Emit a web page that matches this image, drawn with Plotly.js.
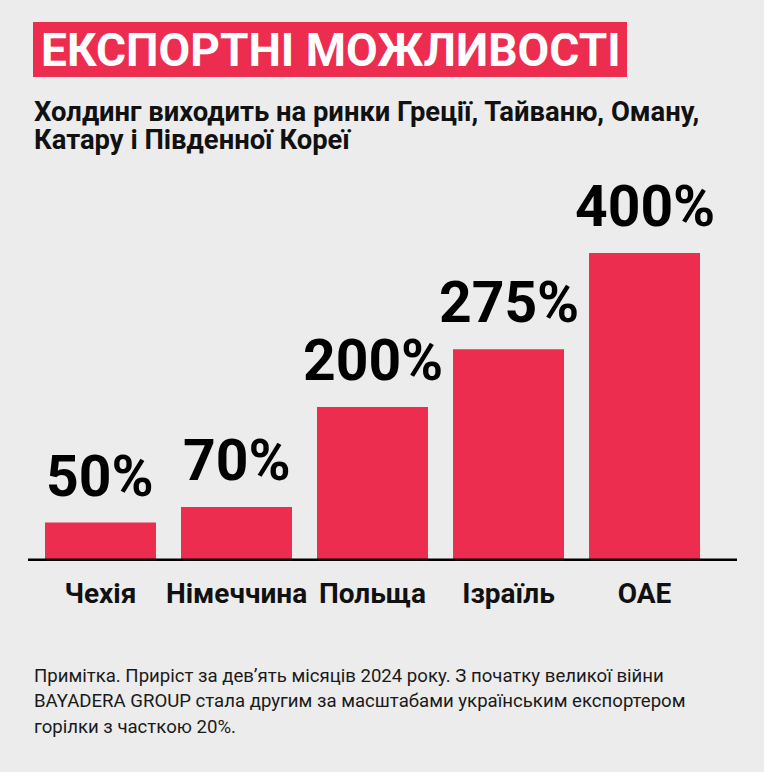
<!DOCTYPE html>
<html>
<head>
<meta charset="utf-8">
<script src="https://cdn.plot.ly/plotly-3.0.1.min.js"></script>
<style>html,body{margin:0;padding:0;background:#ececec;}</style>
</head>
<body>
<div id="chart" style="width:764px;height:772px;"></div>
<script>
const categories = ["Чехія", "Німеччина", "Польща", "Ізраїль", "ОАЕ"];
const growthValues = [50, 70, 200, 275, 400];
const valueLabels = ["50%", "70%", "200%", "275%", "400%"];
const titleText = "ЕКСПОРТНІ МОЖЛИВОСТІ";
const subtitleLines = ["Холдинг виходить на ринки Греції, Тайваню, Оману,", "Катару і Південної Кореї"];
const noteLines = [
  "Примітка. Приріст за дев’ять місяців 2024 року. З початку великої війни",
  "BAYADERA GROUP стала другим за масштабами українським експортером",
  "горілки з часткою 20%."
];

const RED = "#ec2d50";
const W = 764, H = 772;
const L = 28, R = 27, T = 191, B = 211;
const plotW = W - L - R, plotH = H - T - B;
// helpers converting page pixels to paper coords
const px = x => (x - L) / plotW;
const py = y => (H - B - y) / plotH;

const trace = {
  type: "bar",
  x: categories,
  y: growthValues,
  marker: { color: RED, line: { width: 0 } },
  hoverinfo: "skip"
};

const annotations = [];
categories.forEach((c, i) => {
  annotations.push({
    x: c, y: growthValues[i], xref: "x", yref: "y",
    text: valueLabels[i], showarrow: false,
    xanchor: "center", yanchor: "bottom", yshift: 11,
    font: { family: "Roboto", size: 57, color: "#000", weight: 700 }
  });
});
annotations.push({
  xref: "paper", yref: "paper", x: px(331), y: py(49.5),
  xanchor: "center", yanchor: "middle", showarrow: false,
  text: titleText,
  font: { family: "Roboto", size: 46, color: "#ffffff", weight: 700 }
});
// subtitle: one text block; outer size sets the 28px line step, inner span sets glyph size
annotations.push({
  xref: "paper", yref: "paper", x: px(32), y: py(126),
  xanchor: "left", yanchor: "middle", showarrow: false, align: "left",
  text: subtitleLines.map(t => '<span style="font-size:27.4px">' + t + '</span>').join("<br>"),
  font: { family: "Roboto", size: 21.5, color: "#111", weight: 700 }
});
// note: one text block with 25.5px line step
annotations.push({
  xref: "paper", yref: "paper", x: px(32), y: py(701.5),
  xanchor: "left", yanchor: "middle", showarrow: false, align: "left",
  text: noteLines.map(t => '<span style="font-size:18.6px">' + t + '</span>').join("<br>"),
  font: { family: "Roboto", size: 19.6, color: "#1a1a1a", weight: 400 }
});

const layout = {
  width: W, height: H,
  margin: { l: L, r: R, t: T, b: B, pad: 0 },
  paper_bgcolor: "#ececec",
  plot_bgcolor: "#ececec",
  showlegend: false,
  bargap: 0.184,
  xaxis: {
    type: "category",
    range: [-0.533, 4.68],
    showgrid: false, zeroline: false, showline: false,
    ticks: "", ticklabelstandoff: 13,
    tickfont: { family: "Roboto", size: 28, color: "#111", weight: 700 },
    fixedrange: true
  },
  yaxis: {
    range: [0, plotH / 0.77],
    showgrid: false, zeroline: false, showline: false,
    showticklabels: false, ticks: "", fixedrange: true
  },
  shapes: [
    {
      type: "rect", xref: "paper", yref: "paper",
      x0: px(33), x1: px(627), y0: py(77), y1: py(22),
      fillcolor: RED, line: { width: 0 }, layer: "below"
    },
    {
      type: "line", xref: "paper", yref: "y",
      x0: 0, x1: 1, y0: 0, y1: 0,
      line: { color: "#000", width: 5 }, layer: "above"
    }
  ],
  annotations: annotations
};

Plotly.newPlot("chart", [trace], layout, { displayModeBar: false, staticPlot: true });
</script>
</body>
</html>
